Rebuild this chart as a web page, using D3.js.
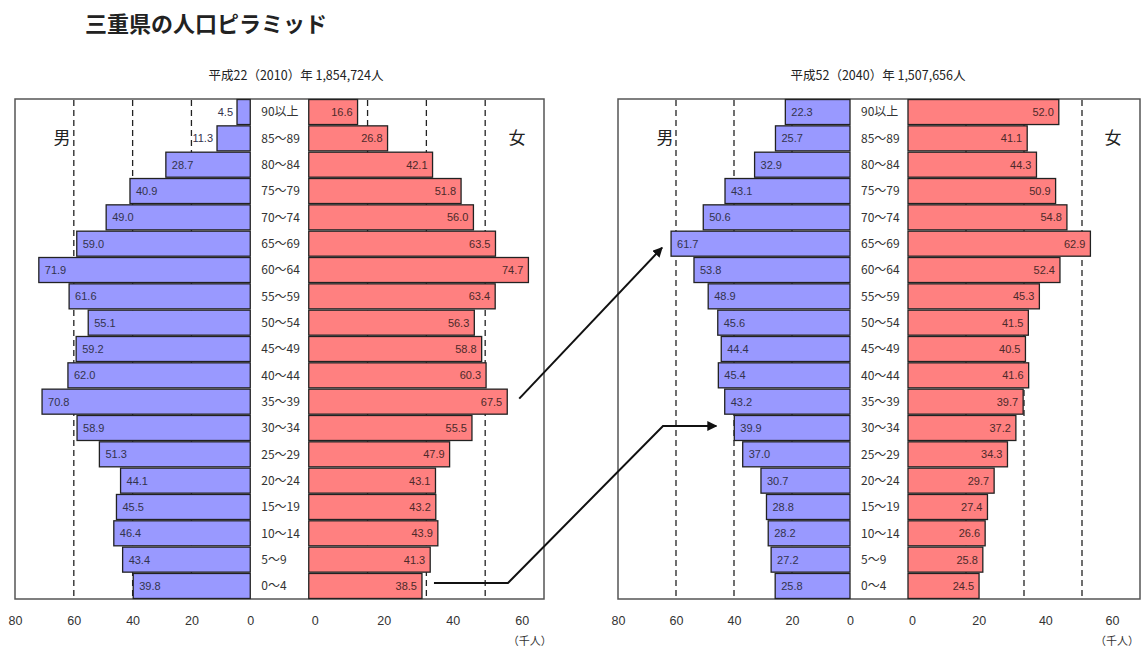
<!DOCTYPE html>
<html>
<head>
<meta charset="utf-8">
<script src="https://cdn.jsdelivr.net/npm/d3@7"></script>
<style>
  body { margin: 0; background: #fff; }
  svg { display: block; }
</style>
</head>
<body>
<div id="container"></div>
<script>
var svgWidth = 1142;
var svgHeight = 650;

// age groups, top to bottom
var ageGroups = ['90以上', '85～89', '80～84', '75～79', '70～74', '65～69', '60～64', '55～59', '50～54',
    '45～49', '40～44', '35～39', '30～34', '25～29', '20～24', '15～19', '10～14', '5～9', '0～4'];

// thousand persons
var male2010 = [4.5, 11.3, 28.7, 40.9, 49.0, 59.0, 71.9, 61.6, 55.1, 59.2, 62.0, 70.8, 58.9, 51.3, 44.1, 45.5, 46.4, 43.4, 39.8];
var female2010 = [16.6, 26.8, 42.1, 51.8, 56.0, 63.5, 74.7, 63.4, 56.3, 58.8, 60.3, 67.5, 55.5, 47.9, 43.1, 43.2, 43.9, 41.3, 38.5];
var male2040 = [22.3, 25.7, 32.9, 43.1, 50.6, 61.7, 53.8, 48.9, 45.6, 44.4, 45.4, 43.2, 39.9, 37.0, 30.7, 28.8, 28.2, 27.2, 25.8];
var female2040 = [52.0, 41.1, 44.3, 50.9, 54.8, 62.9, 52.4, 45.3, 41.5, 40.5, 41.6, 39.7, 37.2, 34.3, 29.7, 27.4, 26.6, 25.8, 24.5];

var maleTicks = [80, 60, 40, 20, 0];
var femaleTicks = [0, 20, 40, 60];
var gridValues = [20, 40, 60];

var MALE_COLOR = '#9999ff', FEMALE_COLOR = '#ff8080';
var NUM_FONT = '"Liberation Sans", Arial, sans-serif';
var JP_FONT = '"Noto Sans CJK JP", "Noto Sans", sans-serif';

var svg = d3.select('#container').append('svg')
    .attr('width', svgWidth)
    .attr('height', svgHeight)
;

svg.append('text')
    .attr('x', 85)
    .attr('y', 32)
    .style('font-family', JP_FONT)
    .style('font-size', '22px')
    .style('font-weight', 700)
    .style('fill', '#222')
    .text('三重県の人口ピラミッド');

// arrowhead
svg.append('defs').append('marker')
    .attr('id', 'arrow')
    .attr('viewBox', '0 0 10 10')
    .attr('refX', 9)
    .attr('refY', 5)
    .attr('markerWidth', 5)
    .attr('markerHeight', 5)
    .attr('orient', 'auto')
    .attr('markerUnits', 'strokeWidth')
  .append('path')
    .attr('d', 'M0,0L10,5L0,10z')
    .style('fill', '#111');

var yTop = 99, yBottom = 599;

var y = d3.scaleBand()
    .domain(ageGroups)
    .range([yTop, yBottom])
    .paddingInner(0.05)
    .paddingOuter(0.02);

function drawPyramid(cfg) {
    var side = (cfg.x1 - cfg.x0 - cfg.gap) / 2;
    var maleZero = cfg.x0 + side;
    var femaleZero = maleZero + cfg.gap;

    var xMale = d3.scaleLinear().domain([0, 80]).range([maleZero, cfg.x0]);
    var xFemale = d3.scaleLinear().domain([0, 80]).range([femaleZero, cfg.x1]);
    // the tick labels under the female side sit a bit off the bar scale in the original
    var xFemaleTick = d3.scaleLinear().domain([0, 60])
        .range([femaleZero + cfg.tickOffset[0], femaleZero + cfg.tickOffset[1]]);

    var g = svg.append('g');

    g.append('text')
        .attr('x', cfg.titleX)
        .attr('y', 80)
        .attr('text-anchor', 'middle')
        .style('font-family', JP_FONT)
        .style('font-size', '12.5px')
        .style('fill', '#222')
        .text(cfg.title);

    g.append('rect')
        .attr('x', cfg.x0)
        .attr('y', yTop)
        .attr('width', cfg.x1 - cfg.x0)
        .attr('height', yBottom - yTop)
        .style('fill', 'none')
        .style('stroke', '#555')
        .style('stroke-width', 1.5);

    // dashed grid, behind the bars
    var grid = g.append('g');
    gridValues.forEach(function (v) {
        [xMale(v), xFemale(v)].forEach(function (gx) {
            grid.append('line')
                .attr('x1', gx).attr('x2', gx)
                .attr('y1', yTop + 1).attr('y2', yBottom)
                .style('stroke', '#222')
                .style('stroke-width', 1.3)
                .style('stroke-dasharray', '6,4');
        });
    });

    g.selectAll('.male-bar').data(cfg.male)
        .enter().append('rect')
        .attr('class', 'male-bar')
        .attr('x', function (d) { return xMale(d); })
        .attr('y', function (d, i) { return y(ageGroups[i]); })
        .attr('width', function (d) { return maleZero - xMale(d); })
        .attr('height', y.bandwidth())
        .style('fill', MALE_COLOR)
        .style('stroke', '#222')
        .style('stroke-width', 1.3);

    g.selectAll('.female-bar').data(cfg.female)
        .enter().append('rect')
        .attr('class', 'female-bar')
        .attr('x', femaleZero)
        .attr('y', function (d, i) { return y(ageGroups[i]); })
        .attr('width', function (d) { return xFemale(d) - femaleZero; })
        .attr('height', y.bandwidth())
        .style('fill', FEMALE_COLOR)
        .style('stroke', '#222')
        .style('stroke-width', 1.3);

    var mid = y.bandwidth() / 2;

    g.selectAll('.male-label').data(cfg.male)
        .enter().append('text')
        .attr('class', 'male-label')
        .attr('x', function (d) { return d < 12 ? xMale(d) - 4 : xMale(d) + 6; })
        .attr('y', function (d, i) { return y(ageGroups[i]) + mid; })
        .attr('dy', '0.36em')
        .attr('text-anchor', function (d) { return d < 12 ? 'end' : 'start'; })
        .style('font-family', NUM_FONT)
        .style('font-size', '11px')
        .style('fill', '#33334d')
        .text(function (d) { return d.toFixed(1); });

    g.selectAll('.female-label').data(cfg.female)
        .enter().append('text')
        .attr('class', 'female-label')
        .attr('x', function (d) { return xFemale(d) - 5; })
        .attr('y', function (d, i) { return y(ageGroups[i]) + mid; })
        .attr('dy', '0.36em')
        .attr('text-anchor', 'end')
        .style('font-family', NUM_FONT)
        .style('font-size', '11px')
        .style('fill', '#4d2a2a')
        .text(function (d) { return d.toFixed(1); });

    g.selectAll('.age-label').data(ageGroups)
        .enter().append('text')
        .attr('class', 'age-label')
        .attr('x', maleZero + 11)
        .attr('y', function (d) { return y(d) + mid; })
        .attr('dy', '0.36em')
        .style('font-family', JP_FONT)
        .style('font-size', '12px')
        .style('fill', '#333')
        .text(function (d) { return d; });

    g.append('text')
        .attr('x', cfg.x0 + 47)
        .attr('y', y(ageGroups[1]) + mid)
        .attr('dy', '0.36em')
        .attr('text-anchor', 'middle')
        .style('font-family', JP_FONT)
        .style('font-size', '17px')
        .style('fill', '#222')
        .text('男');

    g.append('text')
        .attr('x', cfg.x1 - 27)
        .attr('y', y(ageGroups[1]) + mid)
        .attr('dy', '0.36em')
        .attr('text-anchor', 'middle')
        .style('font-family', JP_FONT)
        .style('font-size', '17px')
        .style('fill', '#222')
        .text('女');

    // axes below the frame
    var axisY = 613;
    var maleAxis = g.append('g')
        .attr('transform', 'translate(0,' + axisY + ')')
        .call(d3.axisBottom(xMale).tickValues(maleTicks).tickSize(0).tickPadding(3));
    var femaleAxis = g.append('g')
        .attr('transform', 'translate(0,' + axisY + ')')
        .call(d3.axisBottom(xFemaleTick).tickValues(femaleTicks).tickSize(0).tickPadding(3));
    [maleAxis, femaleAxis].forEach(function (ax) {
        ax.select('.domain').remove();
        ax.selectAll('text')
            .style('font-family', NUM_FONT)
            .style('font-size', '12.5px')
            .style('fill', '#333');
    });

    g.append('text')
        .attr('x', Math.min(xFemaleTick(60) + 30, svgWidth - 3))
        .attr('y', 645)
        .attr('text-anchor', 'end')
        .style('font-family', JP_FONT)
        .style('font-size', '11px')
        .style('fill', '#333')
        .text('（千人）');

    return {xMale: xMale, xFemale: xFemale, x0: cfg.x0, x1: cfg.x1};
}

var left = drawPyramid({
    x0: 15, x1: 544, gap: 58.5,
    tickOffset: [6, 213],
    titleX: 296,
    title: '平成22（2010）年 1,854,724人',
    male: male2010, female: female2010
});

var right = drawPyramid({
    x0: 618, x1: 1140, gap: 58,
    tickOffset: [4, 204],
    titleX: 878,
    title: '平成52（2040）年 1,507,656人',
    male: male2040, female: female2040
});

// arrows from 2010 cohorts to the same cohorts in 2040
function rowMid(age) {
    return y(age) + y.bandwidth() / 2;
}

var line = d3.line();

var i35 = ageGroups.indexOf('35～39'), i65 = ageGroups.indexOf('65～69');
svg.append('path')
    .attr('d', line([
        [left.xFemale(female2010[i35]) + 12, rowMid('35～39') - 3],
        [right.xMale(male2040[i65]) - 9, rowMid('65～69') + 4]
    ]))
    .attr('marker-end', 'url(#arrow)')
    .style('fill', 'none')
    .style('stroke', '#111')
    .style('stroke-width', 2);

var i0 = ageGroups.indexOf('0～4'), i30 = ageGroups.indexOf('30～34');
var startY = rowMid('0～4') - 3, endY = rowMid('30～34') - 2;
svg.append('path')
    .attr('d', line([
        [left.xFemale(female2010[i0]) + 12, startY],
        [left.x1 - 36, startY],
        [right.x0 + 45, endY],
        [right.xMale(male2040[i30]) - 18, endY]
    ]))
    .attr('marker-end', 'url(#arrow)')
    .style('fill', 'none')
    .style('stroke', '#111')
    .style('stroke-width', 2);
</script>
</body>
</html>
